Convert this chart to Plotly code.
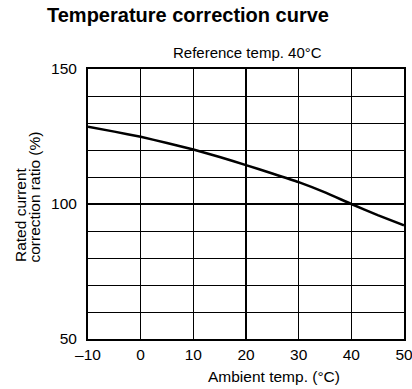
import plotly.graph_objects as go

# Data
temps = [-10, -5, 0, 5, 10, 15, 20, 25, 30, 35, 40, 45, 50]
ratio = [128.6, 126.8, 124.9, 122.6, 120.2, 117.4, 114.4, 111.3, 108.1, 104.3, 100.0, 95.9, 92.1]
x_tick_vals = [-10, 0, 10, 20, 30, 40, 50]
x_tick_text = ["\u201310", "0", "10", "20", "30", "40", "50"]
y_tick_vals = [50, 100, 150]
y_tick_text = ["50", "100", "150"]

FONT = "Liberation Sans, Arial, Helvetica, sans-serif"

W, H = 412, 389
PL, PR, PT, PB = 88, 404, 69, 339  # plot area in window pixels
PW, PH = PR - PL, PB - PT


def px(xw):
    return (xw - PL) / PW


def py(yw):
    return (PB - yw) / PH


fig = go.Figure()
fig.add_trace(go.Scatter(
    x=temps, y=ratio, mode="lines",
    line=dict(color="black", width=2.5, shape="spline", smoothing=0.4),
    showlegend=False, hoverinfo="skip",
))

fig.update_layout(
    width=W, height=H,
    margin=dict(l=PL, r=W - PR, t=PT, b=H - PB),
    paper_bgcolor="white", plot_bgcolor="white",
    font=dict(family=FONT, size=15.5, color="black"),
    showlegend=False,
)

fig.update_xaxes(
    range=[-10, 50],
    tickvals=x_tick_vals, ticktext=x_tick_text,
    showgrid=True, gridcolor="black", gridwidth=1.2,
    showline=True, linecolor="black", linewidth=2, mirror=True,
    ticks="", ticklabelstandoff=0, automargin=False,
    ticklabeloverflow="allow",
    tickfont=dict(family=FONT, size=15.5, color="black"),
    zeroline=False,
)
fig.update_yaxes(
    range=[50, 150],
    tickvals=y_tick_vals, ticktext=y_tick_text,
    showgrid=True, gridcolor="black", gridwidth=2,
    minor=dict(dtick=10, showgrid=True, gridcolor="black", gridwidth=1, tick0=50),
    showline=True, linecolor="black", linewidth=2, mirror=True,
    ticks="", ticklabelstandoff=6, automargin=False,
    ticklabeloverflow="allow",
    tickfont=dict(family=FONT, size=15.5, color="black"),
    zeroline=False,
)

fig.add_annotation(
    text="<b>Temperature correction curve</b>",
    xref="paper", yref="paper", x=px(188), y=py(15),
    showarrow=False, xanchor="center", yanchor="middle",
    font=dict(family=FONT, size=20, color="black"),
)
fig.add_annotation(
    text="Reference temp. 40°C",
    xref="paper", yref="paper", x=px(247), y=py(52),
    showarrow=False, xanchor="center", yanchor="middle",
    font=dict(family=FONT, size=15, color="black"),
)
fig.add_annotation(
    text="Ambient temp. (°C)",
    xref="paper", yref="paper", x=px(273.5), y=py(376),
    showarrow=False, xanchor="center", yanchor="middle",
    font=dict(family=FONT, size=15.5, color="black"),
)
fig.add_annotation(
    text="Rated current",
    xref="paper", yref="paper", x=px(20), y=py(215),
    showarrow=False, xanchor="center", yanchor="middle", textangle=-90,
    font=dict(family=FONT, size=15.5, color="black"),
)
fig.add_annotation(
    text="correction ratio (%)",
    xref="paper", yref="paper", x=px(34), y=py(197.5),
    showarrow=False, xanchor="center", yanchor="middle", textangle=-90,
    font=dict(family=FONT, size=15.5, color="black"),
)

# Remove the default 8px page margin so the figure fills the window exactly.
fig.write_html(
    "out.html",
    config={"displayModeBar": False, "staticPlot": True},
    post_script="document.body.style.margin='0';",
)
